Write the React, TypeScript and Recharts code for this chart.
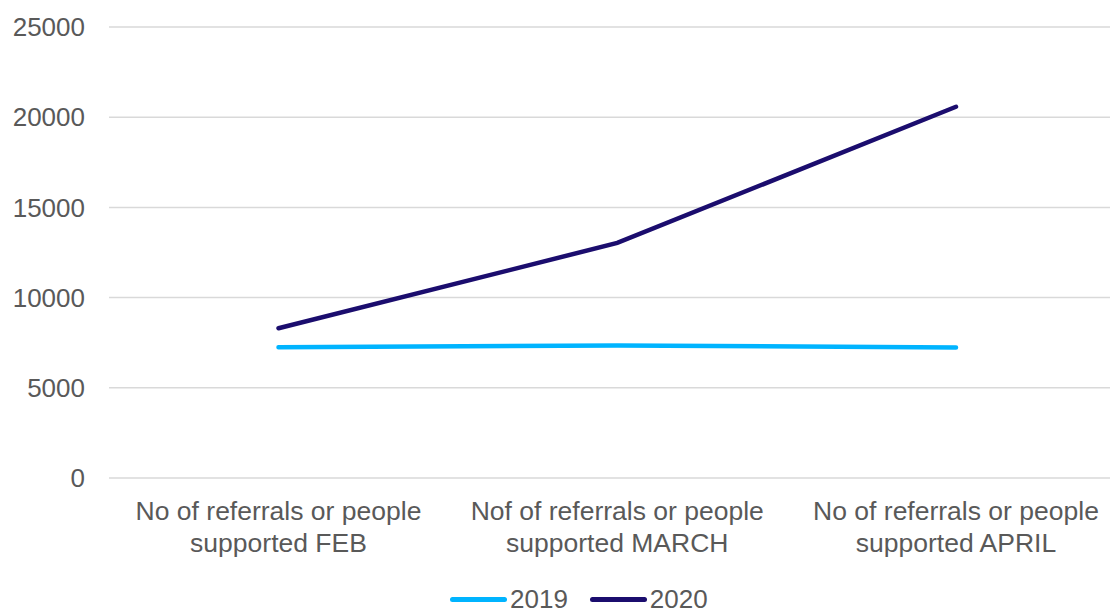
import React from "react";
import { LineChart, Line, XAxis, YAxis, CartesianGrid, Legend } from "recharts";

const categories = [
  "No of referrals or people supported FEB",
  "Nof of referrals or people supported MARCH",
  "No of referrals or people supported APRIL",
];
const series2019 = [7250, 7350, 7230];
const series2020 = [8300, 13030, 20580];
const yTicks = [0, 5000, 10000, 15000, 20000, 25000];

const seriesDefs = [
  { key: "y2019", name: "2019", color: "#00B4FF" },
  { key: "y2020", name: "2020", color: "#1B0D6E" },
];

const data = categories.map((c, i) => ({
  category: c,
  y2019: series2019[i],
  y2020: series2020[i],
}));

const FONT = "'Liberation Sans', Arial, sans-serif";
const TEXT = "#595959";

const CategoryTick = (props: any) => {
  const { x, y, payload } = props;
  const lines = String(payload.value).split(/ (?=supported)/);
  return (
    <text x={x} y={y} textAnchor="middle" fill={TEXT} fontSize={26.5} fontFamily={FONT}>
      {lines.map((l: string, i: number) => (
        <tspan key={i} x={x} dy={i === 0 ? 42 : 32}>
          {l}
        </tspan>
      ))}
    </text>
  );
};

const LegendContent = () => (
  <div
    style={{
      display: "flex",
      flexDirection: "row",
      alignItems: "center",
      marginTop: 18,
      marginLeft: 450,
      height: 26,
      fontFamily: FONT,
      fontSize: 26,
      color: TEXT,
      lineHeight: "26px",
    }}
  >
    {seriesDefs.map((s) => (
      <div key={s.key} style={{ display: "flex", alignItems: "center", marginRight: 22 }}>
        <div style={{ width: 57, height: 5, borderRadius: 3, background: s.color, marginRight: 3 }} />
        <span>{s.name}</span>
      </div>
    ))}
  </div>
);

export default function App() {
  return (
    <div
      style={{
        position: "absolute",
        left: 0,
        top: 0,
        width: 1110,
        height: 610,
        overflow: "hidden",
        background: "#fff",
      }}
    >
      <LineChart
        width={1140}
        height={610}
        data={data}
        margin={{ top: 27, right: 14.5, bottom: 0, left: 0 }}
      >
        <CartesianGrid horizontal vertical={false} stroke="#D9D9D9" strokeWidth={1.5} />
        <XAxis
          dataKey="category"
          axisLine={false}
          tickLine={false}
          tickSize={0}
          tickMargin={0}
          height={90}
          interval={0}
          padding={{ left: 169.5, right: 169.5 }}
          tick={<CategoryTick />}
        />
        <YAxis
          domain={[0, 25000]}
          ticks={yTicks}
          width={109}
          axisLine={false}
          tickLine={false}
          tickMargin={18}
          tick={{ fill: TEXT, fontSize: 26, fontFamily: FONT }}
        />
        <Legend verticalAlign="bottom" height={42} content={<LegendContent />} wrapperStyle={{ left: 0, width: 1140 }} />
        {seriesDefs.map((s) => (
          <Line
            key={s.key}
            type="linear"
            dataKey={s.key}
            name={s.name}
            stroke={s.color}
            strokeWidth={4.5}
            strokeLinecap="round"
            dot={false}
            activeDot={false}
            isAnimationActive={false}
          />
        ))}
      </LineChart>
    </div>
  );
}
